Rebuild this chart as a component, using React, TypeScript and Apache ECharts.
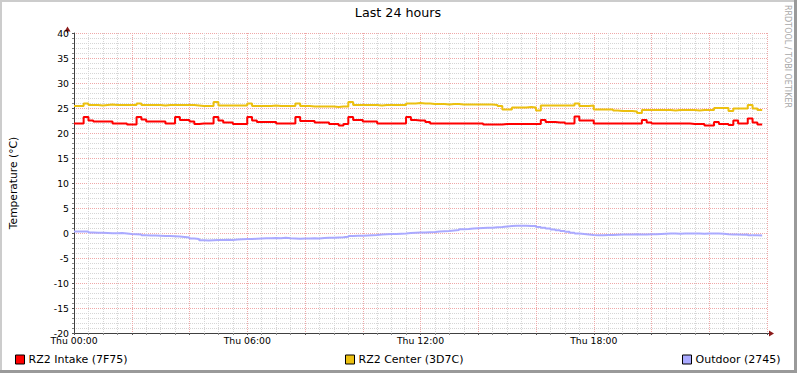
import React, { useEffect, useRef } from "react";
import * as echarts from "echarts";

const TITLE = "Last 24 hours";
const Y_NAME = "Temperature (°C)";
const WATERMARK = "RRDTOOL / TOBI OETIKER";
const SERIES_NAMES = ["RZ2 Intake (7F75)", "RZ2 Center (3D7C)", "Outdoor (2745)"];
const SERIES_COLORS = ["#FF0000", "#ECC010", "#AAAAFF"];
const X_TICK_LABELS = ["Thu 00:00", "Thu 06:00", "Thu 12:00", "Thu 18:00"];
const STEP_HOURS = 1 / 6; // 10-minute samples

const INTAKE = [
  21.9, 21.9, 23.2, 22.5, 22.3, 22.3, 22.3, 22.3, 21.9, 21.9, 21.9, 21.7,
  21.7, 23.2, 22.7, 22.3, 22.3, 22.3, 22.3, 21.9, 21.9, 23.2, 22.6, 22.6,
  22.3, 21.8, 21.9, 21.9, 21.9, 23.2, 22.5, 22.1, 22.1, 21.8, 21.8, 21.8,
  23.2, 22.5, 22.2, 22.2, 22.2, 22.2, 21.9, 21.9, 21.9, 21.9, 23.2, 22.4,
  22.4, 22.4, 22.1, 22.1, 22.1, 21.8, 21.8, 21.5, 21.8, 23.2, 22.6, 22.6,
  22.3, 22.3, 22.3, 21.9, 21.9, 21.9, 21.9, 21.9, 21.9, 23.2, 22.6, 22.5,
  22.5, 22.2, 21.9, 21.9, 21.9, 21.9, 21.9, 21.9, 21.9, 21.9, 21.9, 21.9,
  21.9, 21.7, 21.7, 21.7, 21.7, 21.8, 21.8, 21.8, 21.8, 21.8, 21.8, 21.8,
  21.8, 22.6, 22.2, 22.2, 22.1, 22.1, 21.9, 21.9, 23.3, 22.5, 22.5, 22.5,
  21.9, 21.9, 21.9, 21.9, 21.9, 21.9, 21.9, 21.9, 21.9, 21.9, 22.6, 22.1,
  21.9, 21.9, 21.9, 21.9, 21.9, 21.9, 21.9, 21.9, 21.8, 21.8, 21.8, 21.5,
  21.5, 22.2, 21.8, 21.8, 21.6, 22.5, 21.9, 21.9, 22.9, 22.1, 21.7, 21.6,
];

const CENTER = [
  25.4, 25.4, 25.9, 25.6, 25.6, 25.5, 25.6, 25.7, 25.6, 25.6, 25.6, 25.6,
  25.6, 25.9, 25.6, 25.6, 25.6, 25.6, 25.5, 25.6, 25.6, 25.6, 25.6, 25.6,
  25.6, 25.5, 25.4, 25.4, 25.4, 26.2, 25.5, 25.5, 25.5, 25.5, 25.5, 25.5,
  25.9, 25.4, 25.4, 25.4, 25.4, 25.5, 25.4, 25.4, 25.4, 25.4, 25.9, 25.4,
  25.4, 25.3, 25.3, 25.3, 25.3, 25.3, 25.2, 25.3, 25.3, 26.2, 25.6, 25.6,
  25.6, 25.6, 25.6, 25.5, 25.6, 25.6, 25.6, 25.6, 25.6, 25.9, 25.9, 26.0,
  25.9, 25.9, 25.8, 25.8, 25.8, 25.7, 25.8, 25.8, 25.7, 25.7, 25.7, 25.7,
  25.7, 25.7, 25.7, 25.6, 25.4, 24.7, 24.7, 25.1, 25.1, 25.1, 25.2, 25.1,
  24.5, 25.5, 25.5, 25.5, 25.5, 25.5, 25.5, 25.5, 25.9, 25.4, 25.4, 25.5,
  24.7, 24.7, 24.7, 24.7, 24.5, 24.4, 24.4, 24.4, 24.3, 24.0, 24.6, 24.6,
  24.6, 24.6, 24.6, 24.6, 24.5, 24.6, 24.6, 24.6, 24.6, 24.5, 24.6, 24.6,
  24.6, 25.0, 25.0, 25.0, 24.4, 24.9, 24.9, 24.9, 25.6, 24.9, 24.6, 24.5,
];

const OUTDOOR = [
  0.3, 0.3, 0.3, 0.1, 0.05, 0.05, 0.0, -0.05, -0.05, 0.0, -0.1, -0.2,
  -0.25, -0.3, -0.45, -0.5, -0.5, -0.55, -0.6, -0.6, -0.65, -0.7, -0.8, -0.9,
  -1.1, -1.2, -1.45, -1.5, -1.45, -1.4, -1.4, -1.35, -1.4, -1.3, -1.25, -1.2,
  -1.2, -1.15, -1.1, -1.05, -1.05, -1.0, -1.05, -0.95, -1.05, -1.1, -1.15, -1.1,
  -1.1, -1.05, -1.1, -1.0, -0.95, -0.95, -0.9, -0.85, -0.75, -0.6, -0.55, -0.55,
  -0.5, -0.45, -0.4, -0.3, -0.25, -0.2, -0.2, -0.15, -0.1, 0.0, 0.05, 0.1,
  0.1, 0.15, 0.2, 0.3, 0.35, 0.4, 0.5, 0.6, 0.75, 0.8, 0.9, 0.95,
  1.0, 1.05, 1.05, 1.15, 1.2, 1.3, 1.4, 1.45, 1.45, 1.45, 1.4, 1.4,
  1.2, 1.05, 0.9, 0.7, 0.55, 0.4, 0.25, 0.05, -0.1, -0.2, -0.3, -0.4,
  -0.45, -0.45, -0.4, -0.4, -0.35, -0.3, -0.3, -0.3, -0.25, -0.3, -0.3, -0.25,
  -0.25, -0.2, -0.15, -0.1, -0.1, -0.15, -0.1, -0.1, -0.1, -0.1, -0.15, -0.1,
  -0.1, -0.1, -0.15, -0.25, -0.3, -0.3, -0.35, -0.3, -0.45, -0.45, -0.5, -0.5,
];

const SERIES_VALUES = [INTAKE, CENTER, OUTDOOR];
const LEGEND_LEFT = [15, 345, 682];

const FONT = "DejaVu Sans";
const MAJOR_GRID = "#EFA8A8";
const MINOR_GRID = "#D6D6D6";

export default function App() {
  const ref = useRef<HTMLDivElement>(null);

  useEffect(() => {
    if (!ref.current) return;
    const chart = echarts.init(ref.current, undefined, { renderer: "svg" });

    const series = SERIES_VALUES.map((vals, k) => ({
      name: SERIES_NAMES[k],
      type: "line",
      step: "end",
      showSymbol: false,
      symbol: "none",
      silent: true,
      z: 3 + (k === 0 ? 1 : 0),
      color: SERIES_COLORS[k],
      lineStyle: { color: SERIES_COLORS[k], width: 2 },
      data: vals.map((v, i) => [i * STEP_HOURS, v]),
    }));

    const option: any = {
      animation: false,
      backgroundColor: "#ffffff",
      title: {
        text: TITLE,
        left: 398,
        top: 6,
        padding: 0,
        textAlign: "center",
        textStyle: { fontFamily: FONT, fontSize: 12.7, fontWeight: "normal", color: "#000" },
      },
      legend: SERIES_NAMES.map((n, k) => ({
        data: [n],
        left: LEGEND_LEFT[k],
        top: 354,
        padding: 0,
        icon: "rect",
        itemWidth: 9,
        itemHeight: 9,
        itemGap: 0,
        selectedMode: false,
        itemStyle: { borderColor: "#000", borderWidth: 1 },
        textStyle: { fontFamily: FONT, fontSize: 11, color: "#000", padding: [0, 0, 0, -1] },
      })),
      grid: { left: 67, top: 33, width: 700, height: 300, containLabel: false },
      xAxis: {
        type: "value",
        min: 0,
        max: 24,
        interval: 2,
        axisLine: { show: true, onZero: false, lineStyle: { color: "#404040", width: 1 } },
        axisTick: { show: true, length: 2, lineStyle: { color: "#555" } },
        minorTick: { show: true, splitNumber: 4, length: 2, lineStyle: { color: "#888" } },
        axisLabel: {
          margin: 3,
          fontFamily: FONT,
          fontSize: 9.3,
          color: "#000",
          showMaxLabel: false,
          formatter: (v: number) => (v % 6 === 0 && v < 24 ? X_TICK_LABELS[v / 6] : ""),
        },
        splitLine: { show: true, lineStyle: { color: MAJOR_GRID, type: [1, 1], width: 1 } },
        minorSplitLine: { show: true, lineStyle: { color: MINOR_GRID, type: [1, 1], width: 1 } },
      },
      yAxis: {
        type: "value",
        min: -20,
        max: 40,
        interval: 5,
        name: Y_NAME,
        nameLocation: "middle",
        nameGap: 55,
        nameRotate: 90,
        nameTextStyle: { fontFamily: FONT, fontSize: 10.7, color: "#000" },
        axisLine: { show: true, onZero: false, lineStyle: { color: "#404040", width: 1 } },
        axisTick: { show: true, length: 2, lineStyle: { color: "#555" } },
        minorTick: { show: true, splitNumber: 5, length: 2, lineStyle: { color: "#888" } },
        axisLabel: { margin: 5, fontFamily: FONT, fontSize: 9.3, color: "#000" },
        splitLine: { show: true, lineStyle: { color: MAJOR_GRID, type: [1, 1], width: 1 } },
        minorSplitLine: { show: true, lineStyle: { color: MINOR_GRID, type: [1, 1], width: 1 } },
      },
      series,
      graphic: [
        { type: "rect", shape: { x: 0, y: 0, width: 797, height: 2 }, style: { fill: "#cccccc" }, silent: true },
        { type: "rect", shape: { x: 0, y: 0, width: 2, height: 373 }, style: { fill: "#cccccc" }, silent: true },
        { type: "rect", shape: { x: 794, y: 0, width: 3, height: 373 }, style: { fill: "#9a9a9a" }, silent: true },
        { type: "rect", shape: { x: 0, y: 370, width: 797, height: 3 }, style: { fill: "#9a9a9a" }, silent: true },
        { type: "line", shape: { x1: 767, y1: 333.5, x2: 770, y2: 333.5 }, style: { stroke: "#404040", lineWidth: 1 }, silent: true },
        { type: "line", shape: { x1: 67.5, y1: 33, x2: 67.5, y2: 30 }, style: { stroke: "#404040", lineWidth: 1 }, silent: true },
        { type: "polygon", shape: { points: [[769, 330.5], [774, 333.5], [769, 336.5]] }, style: { fill: "#8B1A1A" }, silent: true },
        { type: "polygon", shape: { points: [[64.5, 31.5], [67.5, 26.5], [70.5, 31.5]] }, style: { fill: "#8B1A1A" }, silent: true },
        {
          type: "text",
          x: 787,
          y: 5,
          rotation: -Math.PI / 2,
          silent: true,
          style: {
            text: WATERMARK,
            fontFamily: FONT,
            fontSize: 8,
            fill: "#a8a8a8",
            align: "left",
            verticalAlign: "middle",
          },
        },
      ],
    };

    chart.setOption(option);
    return () => chart.dispose();
  }, []);

  return (
    <div
      ref={ref}
      style={{ position: "absolute", left: 0, top: 0, width: 797, height: 373, background: "#fff" }}
    />
  );
}
